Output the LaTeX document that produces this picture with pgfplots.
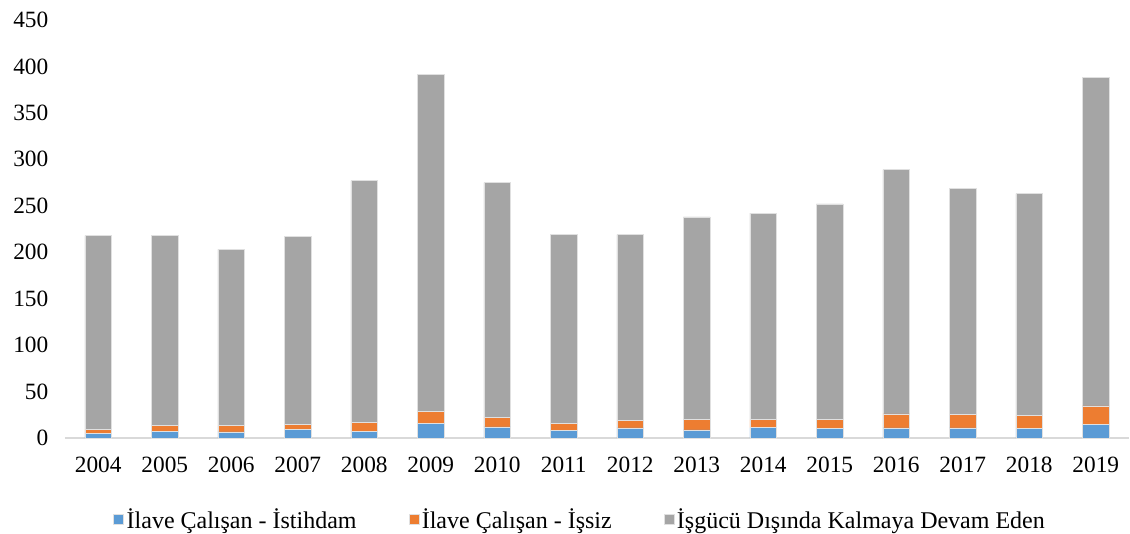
\documentclass[border=0pt]{standalone}
\usepackage{fontspec}
\setmainfont{Liberation Serif}
\usepackage{pgfplots}
\pgfplotsset{compat=1.18}
\definecolor{cblue}{HTML}{5B9BD5}
\definecolor{corange}{HTML}{ED7D31}
\definecolor{cgray}{HTML}{A5A5A5}
\begin{document}
\begin{tikzpicture}
\useasboundingbox (-48.75pt,-71.25pt) rectangle (798.75pt,328.5pt);
\begin{axis}[
  at={(0,0)}, anchor=south west,
  scale only axis,
  width=798pt, height=313.5pt,
  ybar stacked, bar width=20pt,
  xmin=-0.5, xmax=15.5, ymin=0, ymax=450,
  ytick={0,50,...,450},
  xtick={0,...,15},
  xticklabels={2004,2005,2006,2007,2008,2009,2010,2011,2012,2013,2014,2015,2016,2017,2018,2019},
  /pgf/number format/assume math mode=true,
  ticklabel style={font=\fontsize{17.5pt}{19pt}\selectfont},
  yticklabel style={xshift=-9pt},
  xticklabel style={yshift=-11pt},
  major tick length=0pt,
  axis lines*=left,
  y axis line style={draw=none},
  x axis line style={draw=black!15, line width=1.2pt},
  separate axis lines,
  axis line style={-},
  legend style={draw=none, at={(0.4845,-0.196)}, anchor=center,
    font=\fontsize{18pt}{20pt}\selectfont,
    /tikz/every even column/.append style={column sep=37pt},
    /tikz/every odd column/.append style={column sep=0pt}},
  legend columns=3,
  legend image code/.code={\fill[#1] (0pt,-3.5pt) rectangle (7.5pt,4pt);},
  legend cell align=left,
]
\addplot[fill=cblue, draw=black!12, line width=0.4pt] coordinates {
(0,4.7) (1,7) (2,6.5) (3,9) (4,7) (5,15.5) (6,11.9) (7,8) (8,10.8) (9,8.7) (10,11.2) (11,10.5) (12,10.8) (13,10.8) (14,10.1) (15,14.4)};
\addplot[fill=corange, draw=black!12, line width=0.4pt] coordinates {
(0,4.7) (1,6.3) (2,6.8) (3,5.3) (4,9.5) (5,13.5) (6,10.7) (7,7.4) (8,7.9) (9,11) (10,8.6) (11,9.2) (12,15.1) (13,14.4) (14,14) (15,20.1)};
\addplot[fill=cgray, draw=black!12, line width=0.4pt] coordinates {
(0,208.6) (1,204.7) (2,189.7) (3,202.7) (4,260.5) (5,362.5) (6,252.4) (7,203.6) (8,200.3) (9,218.3) (10,222.2) (11,232.3) (12,263.1) (13,243.8) (14,238.9) (15,353.5)};
\legend{İlave Çalışan - İstihdam, İlave Çalışan - İşsiz, İşgücü Dışında Kalmaya Devam Eden}
\end{axis}
\end{tikzpicture}
\end{document}
